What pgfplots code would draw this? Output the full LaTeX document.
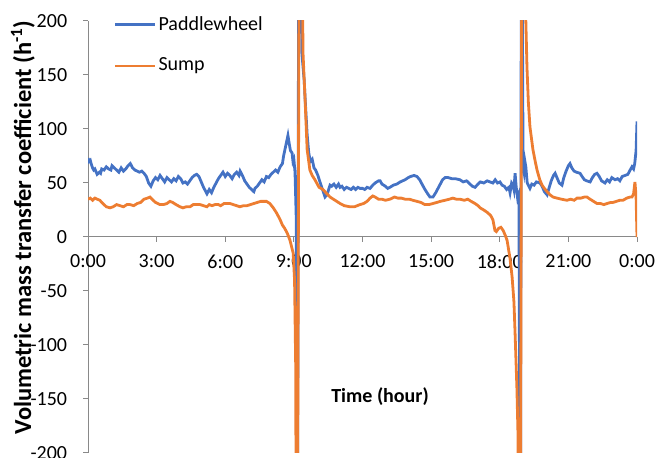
\documentclass[border=0pt]{standalone}
\usepackage{fontspec}
\setmainfont{Carlito}
\usepackage{pgfplots}
\usepackage{pgfplotstable}
\pgfplotsset{compat=1.18}
\definecolor{pwblue}{HTML}{4472C4}
\definecolor{sumporange}{HTML}{ED7D31}
\definecolor{axisgray}{HTML}{898989}

% time (hour), kLa (1/h)
\pgfplotstableread{
t v
0.00 73
0.05 70
0.10 71
0.15 67
0.20 64
0.25 62
0.30 63
0.40 58
0.50 60
0.55 59
0.60 63
0.70 62
0.80 65
0.90 63
1.00 62
1.05 66
1.15 64
1.25 62
1.35 60
1.45 64
1.55 61
1.65 63
1.75 66
1.85 68
1.95 64
2.05 62
2.15 61
2.25 60
2.35 61
2.45 59
2.55 56
2.65 50
2.75 47
2.85 52
2.95 55
3.05 53
3.15 57
3.25 54
3.35 51
3.45 55
3.55 53
3.65 51
3.75 54
3.85 52
3.95 56
4.05 54
4.15 50
4.25 51
4.35 49
4.45 52
4.55 55
4.65 57
4.75 58
4.85 56
4.95 51
5.05 46
5.15 42
5.20 40
5.30 44
5.40 41
5.50 46
5.60 50
5.70 54
5.80 57
5.90 60
6.00 56
6.10 59
6.20 57
6.30 54
6.40 58
6.50 60
6.60 57
6.65 61
6.75 57
6.85 52
6.95 49
7.05 46
7.15 44
7.25 42
7.30 45
7.40 47
7.50 50
7.60 53
7.70 51
7.80 56
7.90 55
8.00 58
8.10 60
8.20 62
8.30 60
8.40 65
8.50 68
8.55 75
8.65 85
8.74 94
8.80 86
8.85 80
8.92 78
8.96 70
9.00 72
9.05 60
9.10 20
9.15 -400
9.22 400
9.35 170
9.45 145
9.50 125
9.58 95
9.65 78
9.72 70
9.80 72
9.88 64
9.95 62
10.05 57
10.14 51
10.25 44
10.36 37
10.45 39
10.52 44
10.58 48
10.65 47
10.75 49
10.85 46
10.95 49
11.02 46
11.10 47
11.20 44
11.30 46
11.40 45
11.50 44
11.60 46
11.70 44
11.80 46
11.89 45
12.00 45
12.10 44
12.20 46
12.33 45
12.45 48
12.55 50
12.70 52
12.77 52
12.85 49
13.00 47
13.10 45
13.20 46
13.35 48
13.50 49
13.65 51
13.86 53
14.00 55
14.10 56
14.25 57
14.38 56
14.50 53
14.60 49
14.73 44
14.85 40
14.95 37
15.08 37
15.20 41
15.35 47
15.50 53
15.61 55
15.75 55
15.90 54
16.05 54
16.26 53
16.40 51
16.55 52
16.70 49
16.80 47
16.92 46
17.05 49
17.15 51
17.30 50
17.45 52
17.57 51
17.70 50
17.80 53
17.90 50
18.01 51
18.10 48
18.20 47
18.30 44
18.40 46
18.45 41
18.52 50
18.58 48
18.62 44
18.67 59
18.72 46
18.78 36
18.84 40
18.90 -400
18.95 400
19.02 65
19.06 60
19.10 70
19.14 65
19.20 50
19.32 45
19.40 49
19.50 48
19.60 51
19.76 50
19.85 47
19.95 42
20.07 39
20.15 45
20.25 52
20.35 57
20.42 59
20.50 55
20.60 50
20.72 48
20.80 55
20.90 61
21.00 66
21.07 68
21.15 64
21.25 61
21.35 60
21.51 59
21.60 56
21.70 53
21.80 52
21.95 51
22.05 55
22.15 58
22.25 59
22.35 56
22.45 52
22.60 50
22.70 53
22.80 51
22.90 55
23.04 53
23.15 54
23.25 52
23.35 56
23.48 57
23.60 58
23.70 62
23.78 65
23.85 63
23.90 68
23.96 80
24.00 107
}\paddle

\pgfplotstableread{
t v
0.00 35
0.10 36
0.20 34
0.30 36
0.40 35
0.52 34
0.60 32
0.70 30
0.80 28
0.96 27
1.10 28
1.25 30
1.40 29
1.55 28
1.70 30
1.84 30
2.00 29
2.15 31
2.30 32
2.45 35
2.60 36
2.71 37
2.80 35
2.95 32
3.05 31
3.15 30
3.30 30
3.45 31
3.58 33
3.70 32
3.85 30
4.02 28
4.15 27
4.30 28
4.46 28
4.60 30
4.75 30
4.90 30
5.05 29
5.20 28
5.30 30
5.42 29
5.55 30
5.70 30
5.80 29
5.95 31
6.10 31
6.21 31
6.35 30
6.50 29
6.64 28
6.80 29
6.95 29
7.10 30
7.25 31
7.40 32
7.55 33
7.80 33
7.95 31
8.10 27
8.25 22
8.40 16
8.50 11
8.60 8
8.72 3
8.83 -3
8.97 -15
9.03 -40
9.08 -120
9.13 -500
9.26 500
9.40 170
9.49 127
9.58 81
9.70 62
9.80 57
9.92 53
10.10 46
10.27 44
10.40 41
10.58 37
10.80 34
11.02 31
11.20 29
11.45 28
11.65 28
11.89 30
12.05 31
12.20 33
12.33 36
12.45 38
12.55 37
12.70 35
12.85 35
13.00 34
13.20 35
13.40 37
13.55 36
13.70 36
13.86 35
14.05 35
14.20 34
14.38 33
14.55 32
14.73 30
14.90 30
15.08 31
15.25 32
15.40 33
15.61 34
15.80 35
15.95 36
16.10 35
16.26 35
16.45 34
16.60 35
16.75 33
16.92 31
17.05 29
17.14 27
17.30 25
17.44 23
17.60 20
17.70 16
17.79 6
17.85 5
17.95 8
18.05 9
18.15 6
18.25 1
18.32 -3
18.45 -20
18.54 -37
18.62 -60
18.67 -89
18.75 -140
18.80 -185
18.88 -500
18.99 500
19.08 260
19.14 200
19.19 157
19.25 125
19.32 102
19.45 81
19.55 70
19.63 62
19.75 53
19.85 48
19.95 45
20.07 42
20.20 39
20.33 37
20.50 36
20.70 35
20.94 34
21.10 35
21.25 34
21.38 36
21.55 36
21.70 37
21.81 37
21.95 35
22.10 33
22.25 31
22.40 31
22.55 30
22.69 31
22.85 32
22.95 32
23.10 33
23.25 34
23.39 34
23.55 36
23.70 37
23.78 37
23.85 40
23.91 51
23.96 37
24.00 0
}\sump

\begin{document}
\fontsize{20}{24}\selectfont
\begin{tikzpicture}
\begin{axis}[
  width=549pt, height=432pt, scale only axis,
  clip mode=individual,
  xmin=0, xmax=24, ymin=-200, ymax=200,
  axis x line*=middle, axis y line*=left,
  axis line style={axisgray, line width=1pt},
  xtick={0,3,...,24},
  xticklabels={0:00,3:00,6:00,9:00,12:00,15:00,18:00,21:00,0:00},
  ytick={-200,-150,...,200},
  yticklabels={-200,-150,-100,-50,0,50,100,150,200},
  tick style={axisgray, line width=1pt},
  tick align=outside, major tick length=5pt,
  yticklabel style={xshift=-9pt},
  xticklabel style={yshift=-6pt},
  xlabel={\textbf{Time (hour)}},
  xlabel style={at={(axis description cs:0.532,0.130)}, anchor=center},
  ylabel={\textbf{Volumetric mass transfer coefficient (h\textsuperscript{-1})}},
  ylabel style={font=\fontsize{24.5}{29}\selectfont,
    at={(axis description cs:-0.1184,0.522)}, anchor=center},
  legend cell align=left,
  legend style={draw=none, fill=none, at={(axis description cs:0.041,1.021)},
    anchor=north west, row sep=21pt},
  legend image code/.code={\draw[#1] (0pt,0pt) -- (40pt,0pt);},
]
\addplot[pwblue, line width=2.8pt] table[x=t, y=v] {\paddle};
\addlegendentry{Paddlewheel}
\addplot[sumporange, line width=2.8pt] table[x=t, y=v] {\sump};
\addlegendentry{Sump}
% tick label at the origin, hidden by the centred x axis
\node[anchor=north, yshift=-11pt] at (axis cs:0,0) {0:00};
\coordinate (bbll) at (axis description cs:0,0);
\coordinate (bbur) at (axis description cs:1,1);
\end{axis}
\pgfresetboundingbox
\path[use as bounding box] ([xshift=-88pt,yshift=-4pt]bbll) rectangle ([xshift=20pt,yshift=21pt]bbur);
\end{tikzpicture}
\end{document}
